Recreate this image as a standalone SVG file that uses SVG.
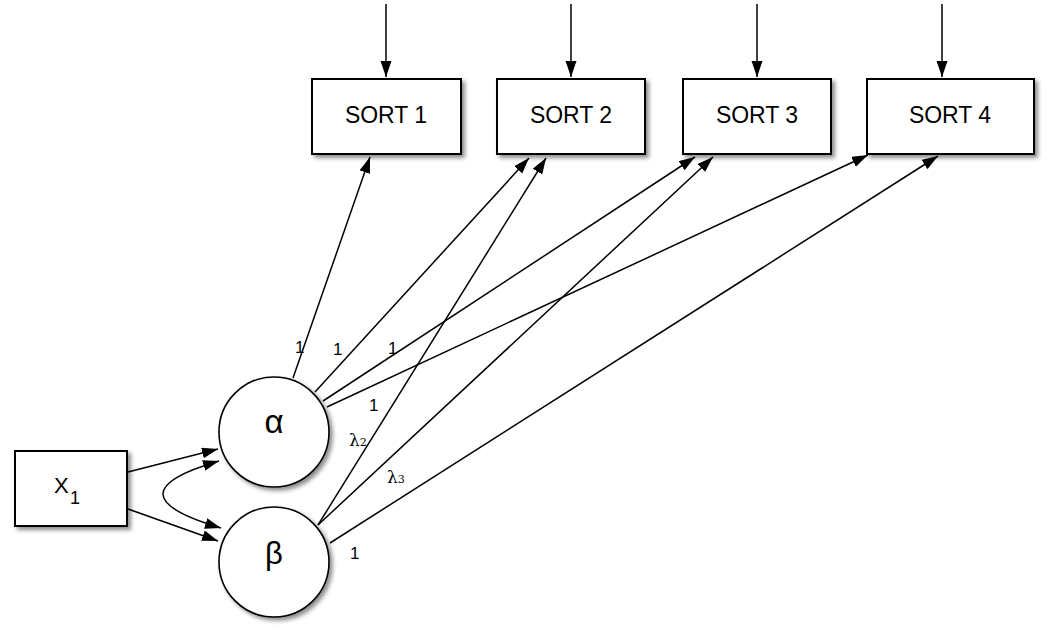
<svg xmlns="http://www.w3.org/2000/svg" width="1050" height="632" viewBox="0 0 1050 632">
<style>
.box{fill:#fff;stroke:#000;stroke-width:2;filter:url(#sh)}
.circ{fill:#fff;stroke:#000;stroke-width:1.6;filter:url(#sh)}
.edge{fill:none;stroke:#000;stroke-width:1.5}
.lbl{font-family:"Liberation Sans",Arial,sans-serif;fill:#000}
.nt{font-family:"Liberation Sans",Arial,sans-serif;font-size:23px;text-anchor:middle;fill:#000}
.coef{font-family:"Liberation Sans",Arial,sans-serif;font-size:17px;fill:#000}
.lam{font-family:"DejaVu Serif","Liberation Serif",serif;font-size:17px;fill:#000}
</style>
<defs>
<filter id="sh" x="-20%" y="-20%" width="150%" height="150%">
<feDropShadow dx="3" dy="3" stdDeviation="2" flood-color="#000" flood-opacity="0.45"/>
</filter>
<marker id="ah" markerUnits="userSpaceOnUse" markerWidth="17" markerHeight="12" refX="16" refY="5.5" orient="auto-start-reverse">
<path d="M0,0 L16,5.5 L0,11 z" fill="#000"/>
</marker>
</defs>

<g id="connectors">
<line class="edge" x1="386" y1="4" x2="386" y2="77" marker-end="url(#ah)"/>
<line class="edge" x1="571" y1="4" x2="571" y2="77" marker-end="url(#ah)"/>
<line class="edge" x1="757" y1="4" x2="757" y2="77" marker-end="url(#ah)"/>
<line class="edge" x1="942" y1="4" x2="942" y2="77" marker-end="url(#ah)"/>
<line class="edge" x1="293" y1="378" x2="370" y2="157" marker-end="url(#ah)"/>
<line class="edge" x1="315" y1="392" x2="529" y2="158" marker-end="url(#ah)"/>
<line class="edge" x1="323" y1="401" x2="695" y2="157" marker-end="url(#ah)"/>
<line class="edge" x1="327" y1="407" x2="868" y2="155" marker-end="url(#ah)"/>
<line class="edge" x1="318" y1="525" x2="546" y2="158" marker-end="url(#ah)"/>
<line class="edge" x1="318" y1="525" x2="713" y2="157" marker-end="url(#ah)"/>
<line class="edge" x1="330" y1="543" x2="938" y2="156" marker-end="url(#ah)"/>
<line class="edge" x1="128" y1="472" x2="218" y2="449" marker-end="url(#ah)"/>
<line class="edge" x1="128" y1="509" x2="218" y2="541" marker-end="url(#ah)"/>
<path class="edge" d="M219,461 Q106,494 221,528" marker-start="url(#ah)" marker-end="url(#ah)"/>
</g>

<g id="sort1"><rect class="box" x="312" y="79" width="149" height="75"/><text class="nt" x="386" y="123">SORT 1</text></g>
<g id="sort2"><rect class="box" x="497" y="79" width="148" height="75"/><text class="nt" x="571" y="123">SORT 2</text></g>
<g id="sort3"><rect class="box" x="683" y="79" width="148" height="75"/><text class="nt" x="757" y="123">SORT 3</text></g>
<g id="sort4"><rect class="box" x="867" y="79" width="167" height="75"/><text class="nt" x="950" y="123">SORT 4</text></g>

<g id="x1"><rect class="box" x="15" y="451" width="112" height="75"/>
<text class="lbl" x="54" y="493" font-size="22">X</text><text class="lbl" x="70" y="504" font-size="18">1</text></g>

<g id="alpha"><circle class="circ" cx="274" cy="432" r="55"/><text class="lbl" x="274" y="433" font-size="33" text-anchor="middle">α</text></g>
<g id="beta"><circle class="circ" cx="274" cy="562" r="55"/><text class="lbl" x="274" y="564" font-size="31" text-anchor="middle">β</text></g>

<g id="labels">
<text class="coef" x="295" y="353">1</text>
<text class="coef" x="333" y="355">1</text>
<text class="coef" x="388" y="354">1</text>
<text class="coef" x="369" y="411">1</text>
<text class="lam" x="349" y="446">λ<tspan font-size="11">2</tspan></text>
<text class="lam" x="387" y="483">λ<tspan font-size="11">3</tspan></text>
<text class="coef" x="350" y="559">1</text>
</g>
</svg>
